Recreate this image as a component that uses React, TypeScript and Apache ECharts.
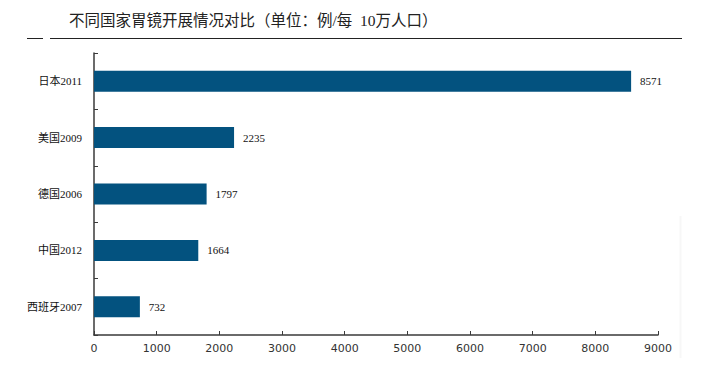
import React, { useEffect, useRef } from "react";
import * as echarts from "echarts";

const titleText = "不同国家胃镜开展情况对比（单位：例/每  10万人口）";
const categories = ["日本2011", "美国2009", "德国2006", "中国2012", "西班牙2007"];
const values = [8571, 2235, 1797, 1664, 732];
const xMin = 0;
const xMax = 9000;
const xStep = 1000;

export default function App() {
  const ref = useRef<HTMLDivElement>(null);
  useEffect(() => {
    if (!ref.current) return;
    const chart = echarts.init(ref.current, null, { renderer: "svg" });
    chart.setOption({
      animation: false,
      backgroundColor: "#ffffff",
      grid: { left: 94, right: 49, top: 53, bottom: 38, containLabel: false },
      graphic: [
        {
          type: "text",
          left: 69,
          top: 13,
          style: {
            text: titleText,
            fontSize: 15.5,
            fontFamily: "'Liberation Serif', 'Noto Sans CJK SC', sans-serif",
            fill: "#222",
          },
        },
        {
          type: "line",
          shape: { x1: 27, y1: 38.5, x2: 43, y2: 38.5 },
          style: { stroke: "#222", lineWidth: 1 },
        },
        {
          type: "line",
          shape: { x1: 50, y1: 38.5, x2: 682, y2: 38.5 },
          style: { stroke: "#222", lineWidth: 1 },
        },
        {
          type: "line",
          shape: { x1: 680.5, y1: 216, x2: 680.5, y2: 358 },
          style: { stroke: "#f7f7f7", lineWidth: 2 },
        },
      ],
      xAxis: {
        type: "value",
        min: xMin,
        max: xMax,
        interval: xStep,
        splitLine: { show: false },
        axisLine: { show: true, lineStyle: { color: "#3a3a3a", width: 1.5 } },
        axisTick: { show: true, inside: true, length: 4, lineStyle: { color: "#3a3a3a" } },
        axisLabel: {
          color: "#333",
          fontSize: 11,
          fontFamily: "'DejaVu Sans', sans-serif",
          margin: 8,
          formatter: (v: number) => String(v),
        },
      },
      yAxis: {
        type: "category",
        data: categories,
        inverse: true,
        axisLine: { show: true, lineStyle: { color: "#3a3a3a", width: 1.5 } },
        axisTick: { show: true, inside: true, length: 4, alignWithLabel: false, lineStyle: { color: "#3a3a3a" } },
        axisLabel: {
          color: "#111",
          fontSize: 11,
          fontFamily: "'Liberation Serif', 'Noto Sans CJK SC', serif",
          margin: 12,
        },
      },
      series: [
        {
          type: "bar",
          data: values,
          barWidth: 21,
          itemStyle: { color: "#03527f" },
          label: {
            show: true,
            position: "right",
            distance: 9,
            color: "#111",
            fontSize: 11,
            fontFamily: "'Liberation Serif', serif",
          },
        },
      ],
    });
    return () => chart.dispose();
  }, []);
  return <div ref={ref} style={{ width: 707, height: 373, position: "absolute", left: 0, top: 0 }} />;
}
